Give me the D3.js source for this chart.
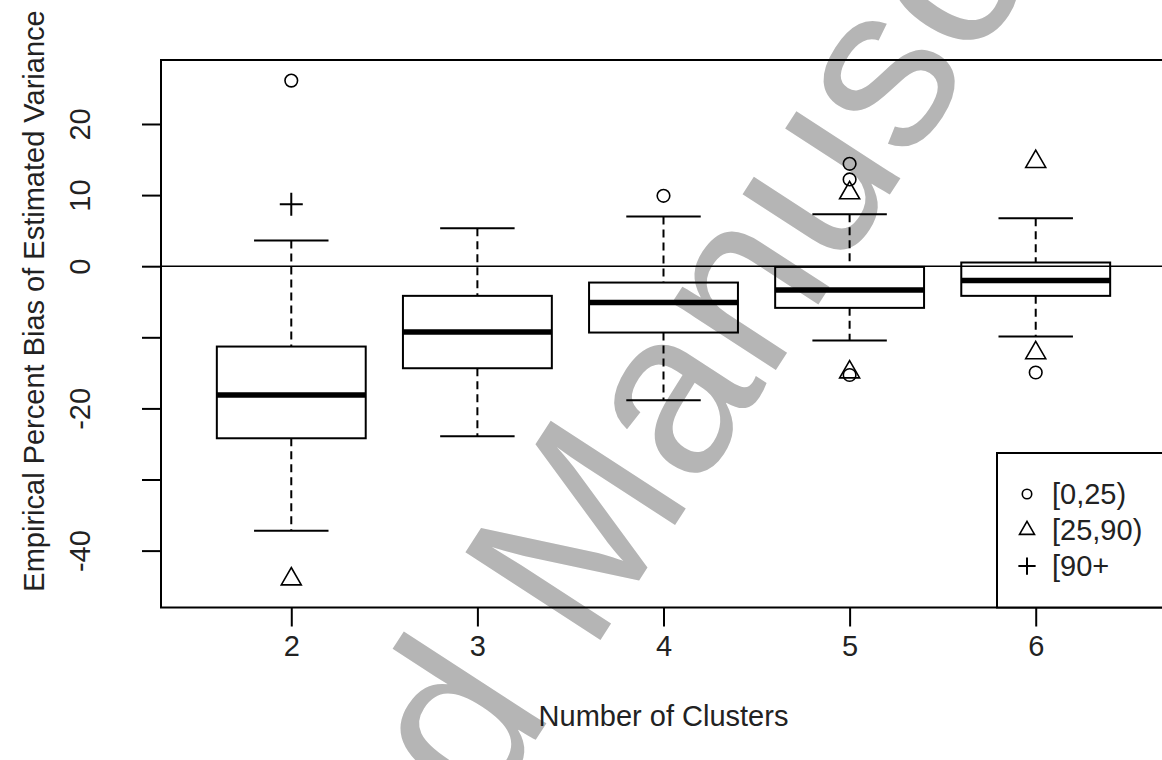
<!DOCTYPE html>
<html>
<head>
<meta charset="utf-8">
<script src="https://cdn.jsdelivr.net/npm/d3@7"></script>
<style>
  html, body { margin: 0; padding: 0; background: #fff; }
  svg { display: block; }
  text { font-family: "Liberation Sans", Arial, sans-serif; }
</style>
</head>
<body>
<svg id="chart" width="1162" height="760"></svg>
<script>
// ---------------- data ----------------
const categories    = [2, 3, 4, 5, 6];
const lowerWhisker  = [-37.2, -23.9, -18.85, -10.45, -9.9];
const q1            = [-24.2, -14.35, -9.33, -5.86, -4.17];
const medians       = [-18.1, -9.27, -5.11, -3.33, -2.0];
const q3            = [-11.3, -4.17, -2.3, -0.1, 0.52];
const upperWhisker  = [3.6, 5.34, 7.0, 7.32, 6.74];

const outlierCluster = [2, 2, 2, 4, 5, 5, 5, 5, 5, 6, 6, 6];
const outlierValue   = [26.1, 8.7, -44.0, 9.9, 14.4, 12.2, 10.3, -14.9, -15.3, 14.7, -12.2, -14.95];
const outlierGroup   = ["[0,25)", "[90+", "[25,90)", "[0,25)", "[0,25)", "[0,25)", "[25,90)", "[25,90)", "[0,25)", "[25,90)", "[25,90)", "[0,25)"];

const legendLabels = ["[0,25)", "[25,90)", "[90+"];
const yTicks       = [-40, -30, -20, -10, 0, 10, 20];
const yTickLabels  = ["-40", "", "-20", "", "0", "10", "20"];
const xTitle = "Number of Clusters";
const yTitle = "Empirical Percent Bias of Estimated Variance";
const watermark = "Accepted Manuscript";

// ---------------- layout ----------------
const svg = d3.select("#chart");
const plot = { left: 161, right: 1166, top: 60, bottom: 607.5 };
const x = d3.scaleLinear().domain([1.3, 6.7]).range([plot.left, plot.right]);
const y = d3.scaleLinear().domain([-48, 29]).range([plot.bottom, plot.top]);
const boxWex = 0.8, stapleWex = 0.4;

// ---------------- watermark (beneath) ----------------
const wmAngle = -57;
const wm = svg.append("text")
  .attr("font-family", "'Liberation Serif', 'Times New Roman', serif")
  .attr("font-size", 234)
  .attr("fill", "#b5b5b5")
  .attr("xml:space", "preserve")
  .text(watermark);
const pre = wm.node().getSubStringLength(0, 9);
const rad = wmAngle * Math.PI / 180;
const mx = 590, my = 656; // where the "M" starts on the baseline
wm.attr("transform", `translate(${mx - pre * Math.cos(rad)},${my - pre * Math.sin(rad)}) rotate(${wmAngle})`);

// ---------------- zero reference line ----------------
svg.append("line")
  .attr("x1", plot.left).attr("x2", plot.right)
  .attr("y1", y(0)).attr("y2", y(0))
  .attr("stroke", "#000").attr("stroke-width", 1.5);

// ---------------- boxes ----------------
const boxes = categories.map((c, i) => ({
  c, lo: lowerWhisker[i], q1: q1[i], med: medians[i], q3: q3[i], hi: upperWhisker[i]
}));
const g = svg.append("g");
const bg = g.selectAll("g.box").data(boxes).enter().append("g").attr("class", "box");

// whiskers (dashed)
bg.append("line")
  .attr("x1", d => x(d.c)).attr("x2", d => x(d.c))
  .attr("y1", d => y(d.hi)).attr("y2", d => y(d.q3))
  .attr("stroke", "#000").attr("stroke-width", 2).attr("stroke-dasharray", "8,5");
bg.append("line")
  .attr("x1", d => x(d.c)).attr("x2", d => x(d.c))
  .attr("y1", d => y(d.q1)).attr("y2", d => y(d.lo))
  .attr("stroke", "#000").attr("stroke-width", 2).attr("stroke-dasharray", "8,5");
// staples
bg.append("line")
  .attr("x1", d => x(d.c - stapleWex / 2)).attr("x2", d => x(d.c + stapleWex / 2))
  .attr("y1", d => y(d.hi)).attr("y2", d => y(d.hi))
  .attr("stroke", "#000").attr("stroke-width", 2);
bg.append("line")
  .attr("x1", d => x(d.c - stapleWex / 2)).attr("x2", d => x(d.c + stapleWex / 2))
  .attr("y1", d => y(d.lo)).attr("y2", d => y(d.lo))
  .attr("stroke", "#000").attr("stroke-width", 2);
// box
bg.append("rect")
  .attr("x", d => x(d.c - boxWex / 2))
  .attr("width", d => x(d.c + boxWex / 2) - x(d.c - boxWex / 2))
  .attr("y", d => y(d.q3))
  .attr("height", d => y(d.q1) - y(d.q3))
  .attr("fill", "none").attr("stroke", "#000").attr("stroke-width", 2);
// median
bg.append("line")
  .attr("x1", d => x(d.c - boxWex / 2)).attr("x2", d => x(d.c + boxWex / 2))
  .attr("y1", d => y(d.med)).attr("y2", d => y(d.med))
  .attr("stroke", "#000").attr("stroke-width", 5.5);

// ---------------- symbols ----------------
function drawSymbol(sel, group, cx, cy, scale) {
  if (group === legendLabels[0]) {
    sel.append("circle").attr("cx", cx).attr("cy", cy).attr("r", 6.3 * scale)
      .attr("fill", "none").attr("stroke", "#000").attr("stroke-width", 1.6);
  } else if (group === legendLabels[1]) {
    const h = 10 * scale;
    const r = h / Math.cos(Math.PI / 6);
    const pts = [[cx, cy - r], [cx + h, cy + r / 2], [cx - h, cy + r / 2]];
    sel.append("path").attr("d", "M" + pts.map(p => p.join(",")).join("L") + "Z")
      .attr("fill", "none").attr("stroke", "#000").attr("stroke-width", 1.6);
  } else {
    const s = 11.5 * scale;
    sel.append("path").attr("d", `M${cx - s},${cy}H${cx + s}M${cx},${cy - s}V${cy + s}`)
      .attr("fill", "none").attr("stroke", "#000").attr("stroke-width", 2);
  }
}
const og = svg.append("g");
outlierValue.forEach((v, i) => drawSymbol(og, outlierGroup[i], x(outlierCluster[i]), y(v), 1));

// ---------------- frame ----------------
svg.append("rect")
  .attr("x", plot.left).attr("y", plot.top)
  .attr("width", plot.right - plot.left).attr("height", plot.bottom - plot.top)
  .attr("fill", "none").attr("stroke", "#000").attr("stroke-width", 2);

// ---------------- axes ----------------
const fs = 29;
const yAxis = svg.append("g").attr("transform", `translate(${plot.left},0)`)
  .call(d3.axisLeft(y).tickValues(yTicks).tickSize(19).tickFormat((d, i) => yTickLabels[i]));
yAxis.select(".domain").remove();
yAxis.selectAll(".tick line").attr("stroke", "#000").attr("stroke-width", 2);
yAxis.selectAll(".tick text")
  .attr("font-family", "'Liberation Sans', Arial, sans-serif")
  .attr("font-size", fs).attr("fill", "#222")
  .attr("text-anchor", "middle")
  .attr("transform", "rotate(-90)")
  .attr("x", 0).attr("y", -71).attr("dy", 0);

const xAxis = svg.append("g").attr("transform", `translate(0,${plot.bottom})`)
  .call(d3.axisBottom(x).tickValues(categories).tickSize(19).tickFormat(d3.format("d")));
xAxis.select(".domain").remove();
xAxis.selectAll(".tick line").attr("stroke", "#000").attr("stroke-width", 2);
xAxis.selectAll(".tick text")
  .attr("font-family", "'Liberation Sans', Arial, sans-serif")
  .attr("font-size", fs).attr("fill", "#222")
  .attr("y", 48).attr("dy", 0);

// titles
svg.append("text")
  .attr("x", (plot.left + plot.right) / 2).attr("y", 726)
  .attr("text-anchor", "middle").attr("font-size", fs).attr("fill", "#222")
  .text(xTitle);
svg.append("text")
  .attr("transform", `translate(44,301) rotate(-90)`)
  .attr("text-anchor", "middle").attr("font-size", fs).attr("fill", "#222")
  .text(yTitle);

// ---------------- legend ----------------
const lg = svg.append("g");
lg.append("rect")
  .attr("x", 997).attr("y", 453)
  .attr("width", plot.right - 997).attr("height", plot.bottom - 453)
  .attr("fill", "#fff").attr("stroke", "#000").attr("stroke-width", 2);
const legendY = [494, 530, 566];
legendLabels.forEach((lab, i) => {
  drawSymbol(lg, lab, 1027, legendY[i], 0.75);
  lg.append("text").attr("x", 1052).attr("y", legendY[i] + 10)
    .attr("font-size", fs).attr("fill", "#222").text(lab);
});
</script>
</body>
</html>
